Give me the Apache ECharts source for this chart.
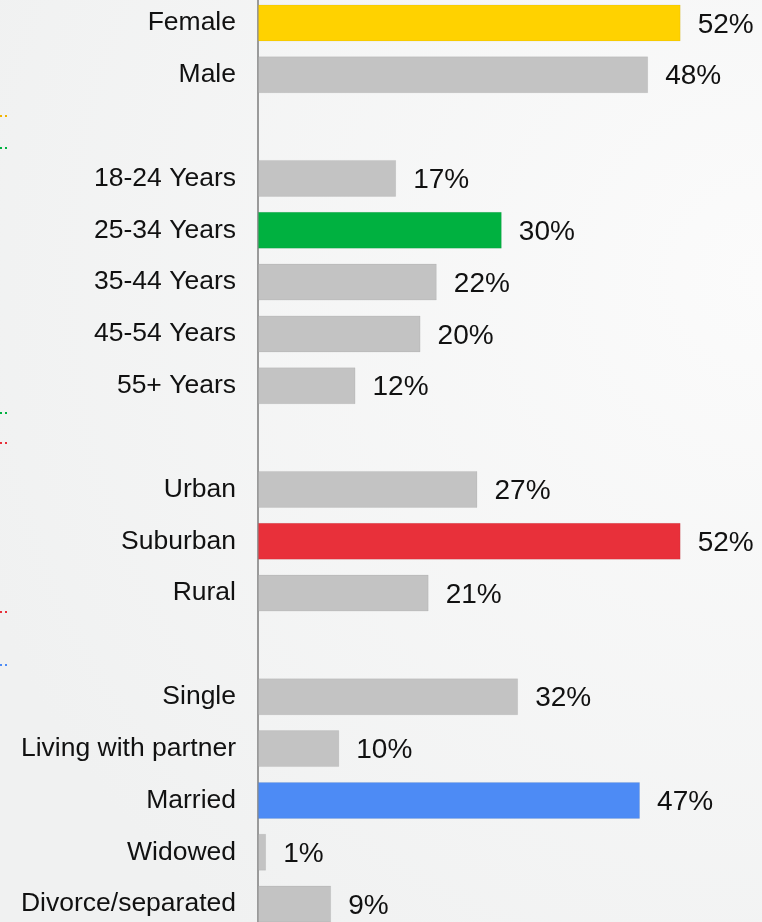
<!DOCTYPE html>
<html>
<head>
<meta charset="utf-8">
<script src="https://cdn.jsdelivr.net/npm/echarts@6/dist/echarts.min.js"></script>
<style>
  html, body { margin: 0; padding: 0; }
  #chart { width: 762px; height: 922px; }
</style>
</head>
<body>
<div id="chart"></div>
<script>
// 类别（空字符串是分组之间的空行）
let categories = [
    'Female', 'Male', '',
    '18-24 Years', '25-34 Years', '35-44 Years', '45-54 Years', '55+ Years', '',
    'Urban', 'Suburban', 'Rural', '',
    'Single', 'Living with partner', 'Married', 'Widowed', 'Divorce/separated'
]
// 百分比
let values = [
    52, 48, null,
    17, 30, 22, 20, 12, null,
    27, 52, 21, null,
    32, 10, 47, 1, 9
]
// 每组里突出显示的那一项
let highlight = {
    'Female': '#FFD200',
    '25-34 Years': '#00B140',
    'Suburban': '#E8303A',
    'Married': '#4D8BF5'
}
let baseColor = '#C3C3C3'

// 左边被裁掉的括号线留下的虚线头
let leftMarks = [
    {y: 116, color: '#F2B400'},
    {y: 148, color: '#00B140'},
    {y: 413, color: '#00B140'},
    {y: 443, color: '#E8303A'},
    {y: 612, color: '#E8303A'},
    {y: 665, color: '#4D8BF5'}
]

let chart = echarts.init(document.getElementById('chart'))
let font = '"Liberation Sans", Arial, sans-serif'

let option = {
    backgroundColor: {
        type: 'radial', x: 1, y: 0.3, r: 1.1,
        colorStops: [
            {offset: 0, color: '#FBFBFB'},
            {offset: 1, color: '#F0F1F1'}
        ]
    },
    animation: false,
    grid: {
        left: 258, width: 504, top: -3, height: 933,
        containLabel: false, outerBoundsMode: 'none'
    },
    xAxis: {
        type: 'value', min: 0, max: 62,
        show: false
    },
    yAxis: {
        type: 'category',
        data: categories,
        inverse: true,
        axisLine: {show: true, lineStyle: {color: '#9A9A9A', width: 2}},
        axisTick: {show: false},
        axisLabel: {
            margin: 22, color: '#111', fontSize: 26.5, fontFamily: font,
            padding: [0, 0, 4, 0]
        }
    },
    series: [{
        type: 'bar',
        barWidth: 37,
        data: values.map((v, i) => ({
            value: v,
            itemStyle: {
                color: highlight[categories[i]] || baseColor,
                borderColor: 'rgba(0,0,0,0.06)', borderWidth: 1
            }
        })),
        label: {
            show: true, position: 'right', distance: 17, offset: [0, 2],
            color: '#111', fontSize: 28, fontFamily: font,
            formatter: p => p.value == null ? '' : p.value + '%'
        }
    }],
    graphic: leftMarks.map(m => ({
        type: 'line',
        shape: {x1: 0, y1: m.y, x2: 9, y2: m.y},
        style: {stroke: m.color, lineWidth: 2, lineDash: [2, 3]}
    }))
}
chart.setOption(option)
</script>
</body>
</html>
